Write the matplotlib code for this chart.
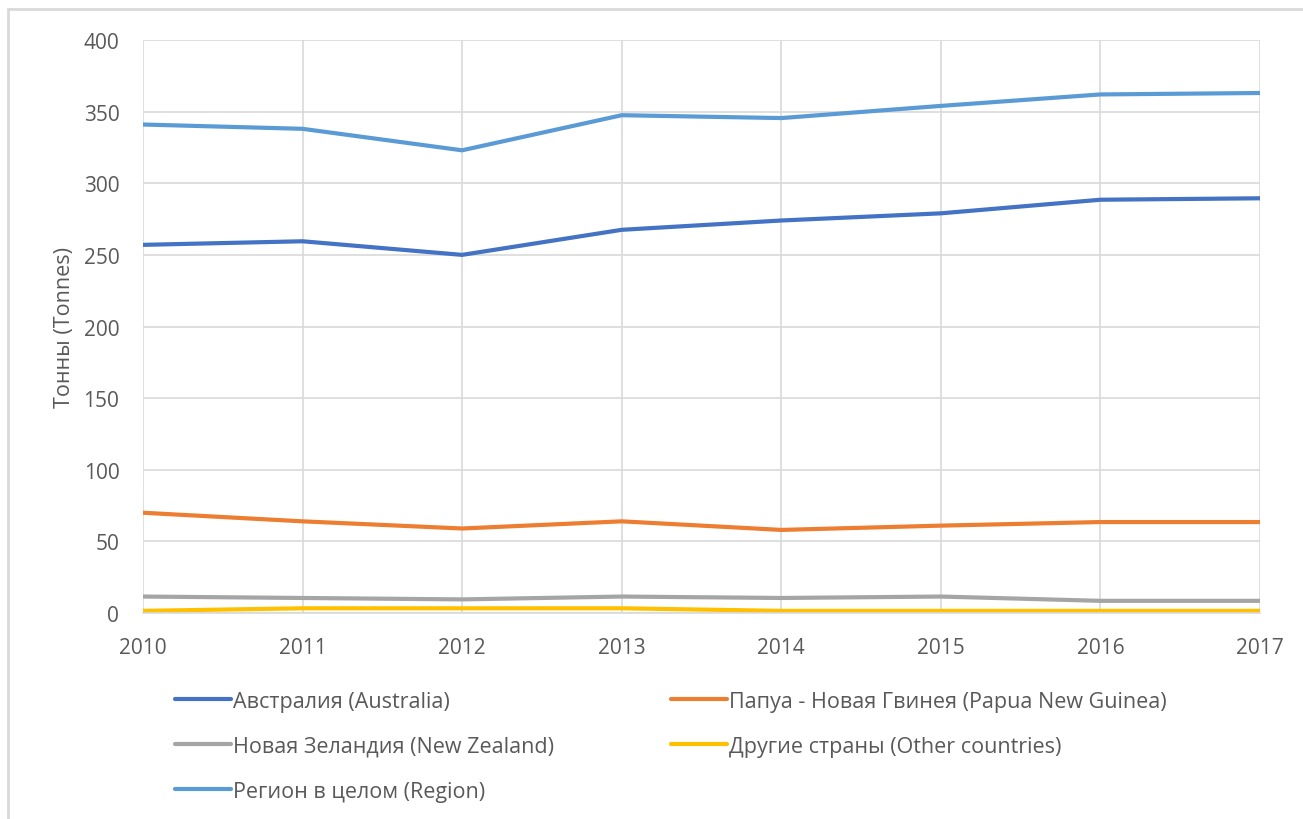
import matplotlib.pyplot as plt
from matplotlib.patches import Rectangle

plt.rcParams['font.family'] = ['Open Sans', 'DejaVu Sans']

years = [2010, 2011, 2012, 2013, 2014, 2015, 2016, 2017]
australia = [257, 259.5, 250, 267.5, 274, 279, 288.5, 289.5]
png = [70, 64, 59, 64, 58, 61, 63.5, 63.5]
new_zealand = [11.5, 10.5, 9.5, 11.5, 10.5, 11.5, 8.5, 8.5]
other = [1.5, 3.3, 3.3, 3.3, 1.5, 1.5, 1.5, 1.5]
region = [341, 338, 323, 347.5, 345.5, 354, 362, 363]

labels = ['Австралия (Australia)', 'Папуа - Новая Гвинея (Papua New Guinea)',
          'Новая Зеландия (New Zealand)', 'Другие страны (Other countries)',
          'Регион в целом (Region)']
colors = ['#4472C4', '#ED7D31', '#A5A5A5', '#FFC000', '#5B9BD5']
series = [australia, png, new_zealand, other, region]

fig = plt.figure(figsize=(13.03, 8.2), dpi=100)
ax = fig.add_axes([0.1097, 0.2512, 0.8573, 0.6988])

lines = []
for vals, lab, col in zip(series, labels, colors):
    ln, = ax.plot(years, vals, color=col, linewidth=3, label=lab, solid_capstyle='round')
    lines.append(ln)

ax.set_xlim(2010, 2017)
ax.set_ylim(0, 400)
ax.set_yticks(range(0, 401, 50))
ax.set_xticks(years)
ax.grid(True, color='#D9D9D9', linewidth=1.2)
ax.set_axisbelow(True)
for s in ['top', 'right', 'left']:
    ax.spines[s].set_visible(False)
ax.spines['bottom'].set_color('#D9D9D9')
ax.spines['bottom'].set_linewidth(1.2)
ax.tick_params(length=0, labelsize=15, labelcolor='#595959')
ax.tick_params(axis='x', pad=17)
ax.tick_params(axis='y', pad=17)
ax.set_ylabel('Тонны (Tonnes)', fontsize=15.5, color='#595959', labelpad=6)

# legend order: row-wise like the reference
order = [0, 2, 4, 1, 3]
fig.legend([lines[i] for i in order], [labels[i] for i in order],
           loc='upper left', bbox_to_anchor=(0.134, 0.1565), ncol=2,
           frameon=False, fontsize=15.5, handlelength=2.6, handletextpad=0.13,
           labelspacing=1.12, columnspacing=5.4, labelcolor='#595959',
           borderaxespad=0, borderpad=0)

fig.patches.append(Rectangle((8 / 1303, -0.1), 1.2, 1.1 - 10 / 820,
                             transform=fig.transFigure,
                             fill=False, edgecolor='#D9D9D9', linewidth=2))

fig.savefig('out.png', dpi=100)
